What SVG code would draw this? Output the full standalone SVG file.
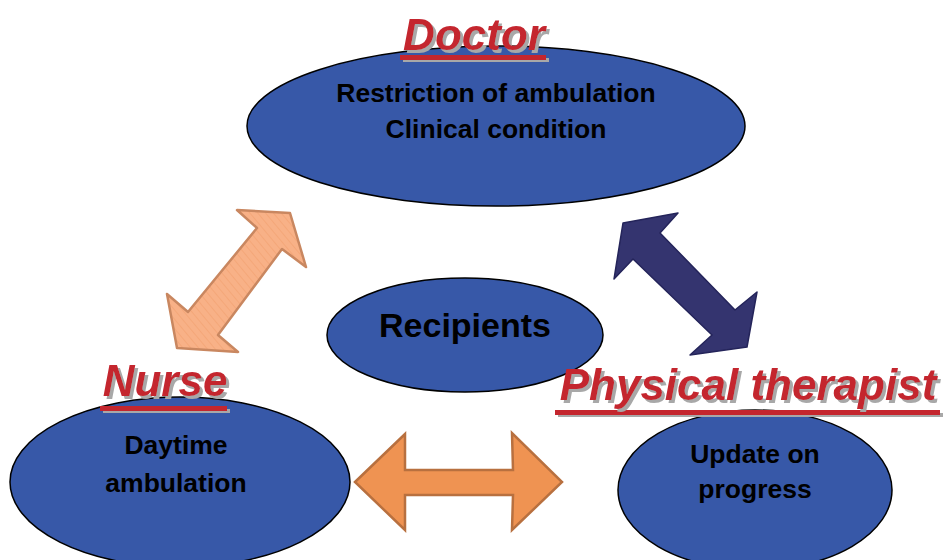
<svg xmlns="http://www.w3.org/2000/svg" width="943" height="560" viewBox="0 0 943 560">
<defs>
<style>
.node{fill:#3758A8;stroke:#000;stroke-width:1.5}
.body{font-family:"Liberation Sans",Arial,sans-serif;font-weight:bold;fill:#000;text-anchor:middle}
.title{font-family:"Liberation Sans",Arial,sans-serif;font-weight:bold;font-style:italic;font-size:44px;fill:#C4252F;text-anchor:middle;filter:url(#shadow)}
.tr{fill:#C4252F;filter:url(#shadow)}
</style>
<filter id="shadow" x="-10%" y="-20%" width="130%" height="160%">
<feDropShadow dx="3" dy="3" stdDeviation="0.6" flood-color="#A8A8A8" flood-opacity="1"/>
</filter>
<pattern id="hatch" patternUnits="userSpaceOnUse" width="6" height="6" patternTransform="rotate(-40)">
<rect width="6" height="6" fill="#F8B187"/>
<line x1="0" y1="0" x2="0" y2="6" stroke="#F2A070" stroke-width="1.2"/>
</pattern>
</defs>
<rect width="943" height="560" fill="#fff"/>
<g id="connectors">
<polygon points="237,210 290,213 306,267 282,249 218,335 238,352 177,348 167,294 188,312 257,228" fill="url(#hatch)" stroke="#C98760" stroke-width="2.5" stroke-linejoin="round"/>
<polygon points="623,223 678,213 660,233 735,310 757,292 747,347 690,355 712,335 633,259 614,279" fill="#34346F" stroke="#24245A" stroke-width="1.5" stroke-linejoin="round"/>
<polygon points="355,482 405,434 405,470 513,470 512,433 562,482 512,530 513,495 405,495 405,530" fill="#EF9352" stroke="#B8703F" stroke-width="2.5" stroke-linejoin="miter"/>
</g>
<g id="doctor">
<ellipse class="node" cx="496" cy="126" rx="249" ry="80"/>
<text class="body" x="496" y="102" font-size="26.5">Restriction of ambulation</text>
<text class="body" x="496" y="138" font-size="26.5">Clinical condition</text>
<rect class="tr" x="400" y="55" width="146" height="5"/>
<text class="title" x="474" y="50">Doctor</text>
</g>
<g id="recipients">
<ellipse class="node" cx="465" cy="335" rx="138" ry="57"/>
<text class="body" x="465" y="337" font-size="34">Recipients</text>
</g>
<g id="nurse">
<ellipse class="node" cx="180" cy="482" rx="170" ry="85"/>
<text class="body" x="176" y="454" font-size="26.5">Daytime</text>
<text class="body" x="176" y="492" font-size="26.5">ambulation</text>
<rect class="tr" x="100" y="406" width="127" height="5"/>
<text class="title" x="165" y="396">Nurse</text>
</g>
<g id="physical-therapist">
<ellipse class="node" cx="755" cy="490" rx="137" ry="80"/>
<text class="body" x="755" y="463" font-size="26.5">Update on</text>
<text class="body" x="755" y="498" font-size="26.5">progress</text>
<rect class="tr" x="555" y="410" width="385" height="5"/>
<text class="title" x="748" y="400">Physical therapist</text>
</g>
</svg>
